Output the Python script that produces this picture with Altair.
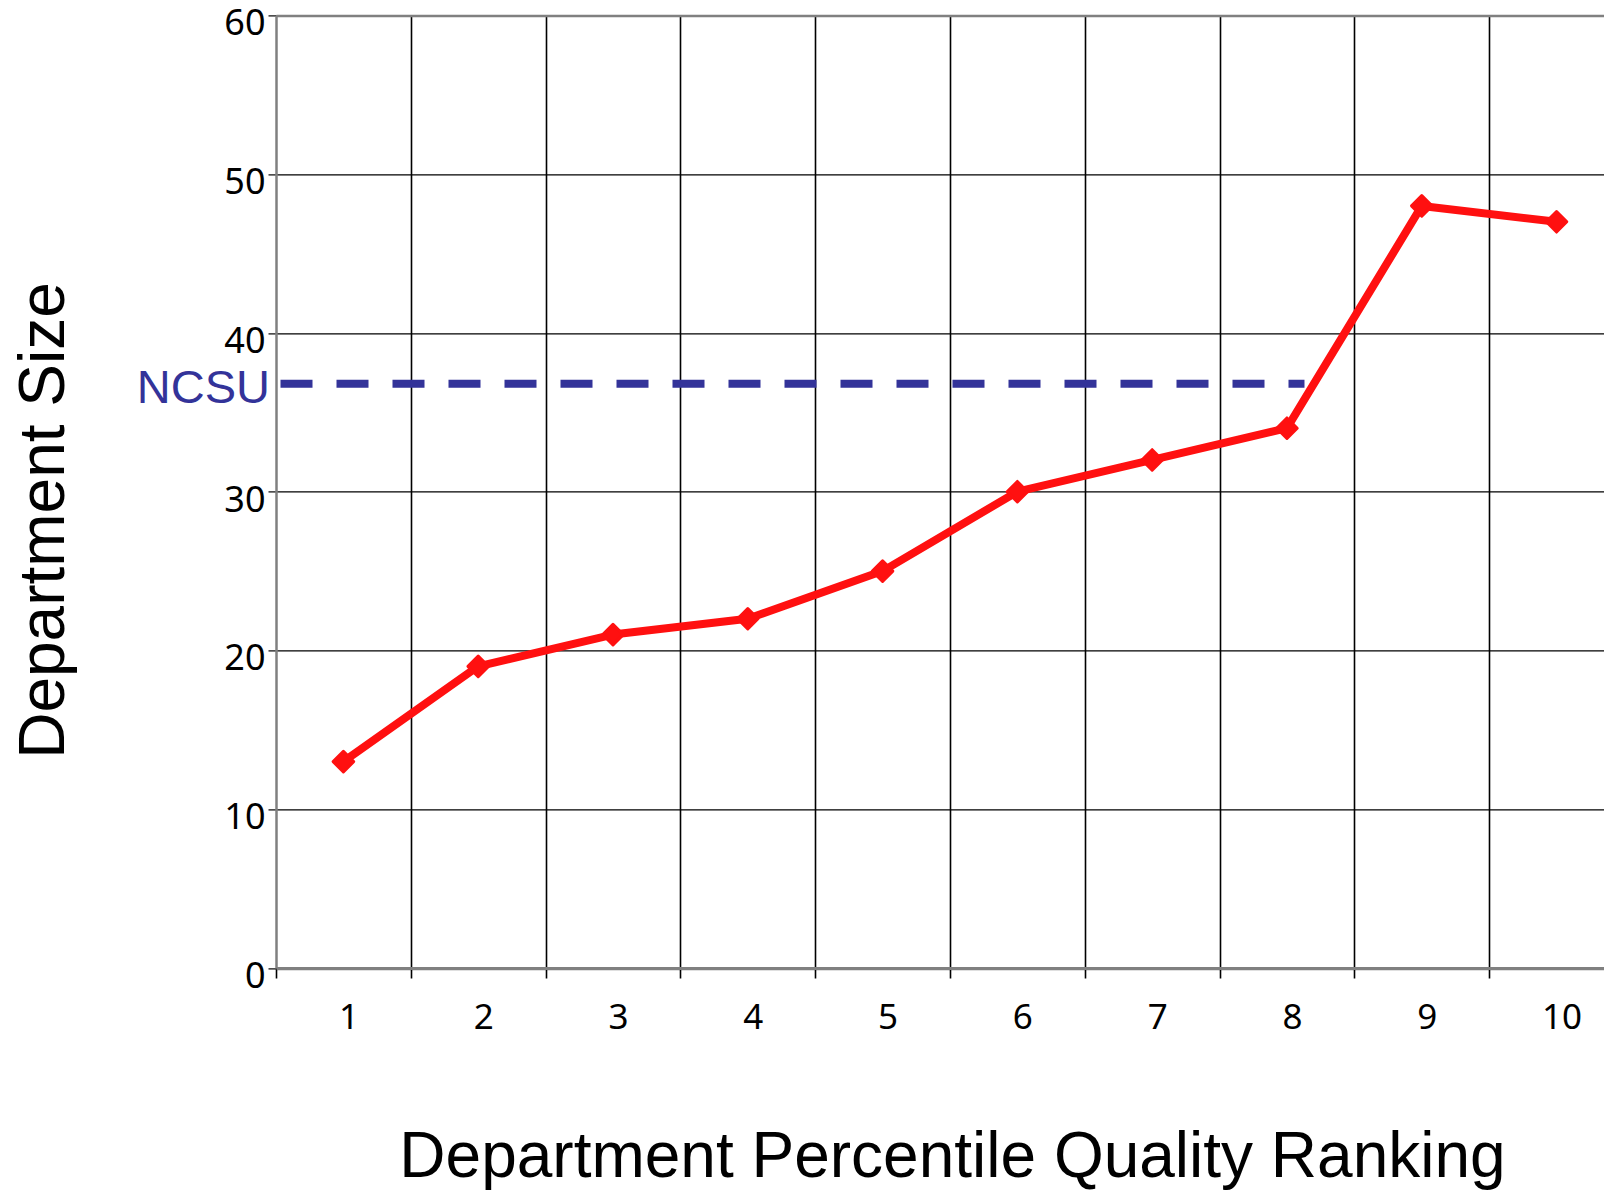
import altair as alt
import pandas as pd

# ---- data ----
ranks = [1, 2, 3, 4, 5, 6, 7, 8, 9, 10]
sizes = [13, 19, 21, 22, 25, 30, 32, 34, 48, 47]

ncsu_label = ["NCSU"]
ncsu_value = [36.8]
ncsu_start = [0.5]
ncsu_end = [8.13]

y_ticks = [0, 10, 20, 30, 40, 50, 60]
x_grid_values = [0.5, 1.5, 2.5, 3.5, 4.5, 5.5, 6.5, 7.5, 8.5, 9.5]

df = pd.DataFrame({"rank": ranks, "size": sizes})
ncsu = pd.DataFrame({"label": ncsu_label, "value": ncsu_value,
                     "start": ncsu_start, "end": ncsu_end})

PLOT_W = 1328
PLOT_H = 952.6
RED = "#ff1010"
BLUE = "#333399"

x_scale = alt.Scale(domain=[0.5, 10.352], nice=False, zero=False)
y_scale = alt.Scale(domain=[0, 60], nice=False, zero=False)

x_axis = alt.Axis(
    values=sorted(x_grid_values + ranks),
    title="Department Percentile Quality Ranking",
    titleFont="Liberation Sans",
    titleFontSize=64,
    titleFontWeight="normal",
    titleColor="black",
    titleX=676,
    titleY=208,
    titleAlign="center",
    titleBaseline="alphabetic",
    labelExpr="datum.value % 1 == 0 ? format(datum.value, 'd') : ''",
    labelFont="Noto Sans",
    labelFontSize=35,
    labelColor="black",
    labelBaseline="alphabetic",
    labelPadding=50,
    labelOffset=5,
    labelFlush=False,
    labelOverlap=False,
    tickSize=10,
    tickColor="black",
    tickWidth=1.6,
    tickOpacity={"condition": {"test": "datum.value % 1 == 0", "value": 0}, "value": 1},
    grid=True,
    gridColor="black",
    gridWidth=1.6,
    gridOpacity={"condition": {"test": "datum.value % 1 == 0 || datum.value < 1", "value": 0}, "value": 1},
    domainColor="#808080",
    domainWidth=3,
)

y_axis = alt.Axis(
    values=y_ticks,
    format="d",
    title="Department Size",
    titleFont="Liberation Sans",
    titleFontSize=64,
    titleFontWeight="normal",
    titleColor="black",
    titleAngle=270,
    titleX=-213,
    titleY=504.6,
    titleAlign="center",
    titleBaseline="alphabetic",
    labelFont="Noto Sans",
    labelFontSize=36,
    labelColor="black",
    labelBaseline="alphabetic",
    labelOffset=19.5,
    labelPadding=3,
    labelFlush=False,
    tickSize=8,
    tickColor="black",
    tickWidth=1.2,
    grid=True,
    gridColor={"condition": {"test": "datum.value == 0 || datum.value == 60", "value": "#808080"}, "value": "black"},
    gridWidth={"condition": {"test": "datum.value == 0 || datum.value == 60", "value": 2.5}, "value": 1.2},
    domainColor="#808080",
    domainWidth=2.5,
)

line = alt.Chart(df).mark_line(color=RED, strokeWidth=8, strokeJoin="round").encode(
    x=alt.X("rank:Q", scale=x_scale, axis=x_axis),
    y=alt.Y("size:Q", scale=y_scale, axis=y_axis),
)

points = alt.Chart(df).mark_point(
    shape="diamond", filled=True, size=420, color=RED,
    stroke=RED, strokeWidth=3, strokeJoin="round", opacity=1,
).encode(
    x=alt.X("rank:Q", scale=x_scale, axis=x_axis),
    y=alt.Y("size:Q", scale=y_scale, axis=y_axis),
)

ncsu_rule = alt.Chart(ncsu).mark_rule(
    color=BLUE, strokeWidth=8, strokeDash=[32, 24], strokeDashOffset=51.5,
).encode(
    x=alt.X("start:Q", scale=x_scale, axis=x_axis),
    x2="end:Q",
    y=alt.Y("value:Q", scale=y_scale, axis=y_axis),
)

ncsu_text = alt.Chart(ncsu).mark_text(
    font="Liberation Sans", fontSize=47, color=BLUE,
    align="right", baseline="alphabetic", dx=-6, dy=19,
).encode(
    x=alt.X("start:Q", scale=x_scale, axis=x_axis),
    y=alt.Y("value:Q", scale=y_scale, axis=y_axis),
    text="label:N",
)

chart = alt.layer(ncsu_rule, line, points, ncsu_text).properties(
    width=PLOT_W,
    height=PLOT_H,
    padding={"left": 268, "top": 7.4, "right": 0, "bottom": 222},
    autosize=alt.AutoSizeParams(type="none"),
    background="white",
).configure_view(stroke=None)

chart.save("out.html", embed_options={"renderer": "svg", "actions": False})
